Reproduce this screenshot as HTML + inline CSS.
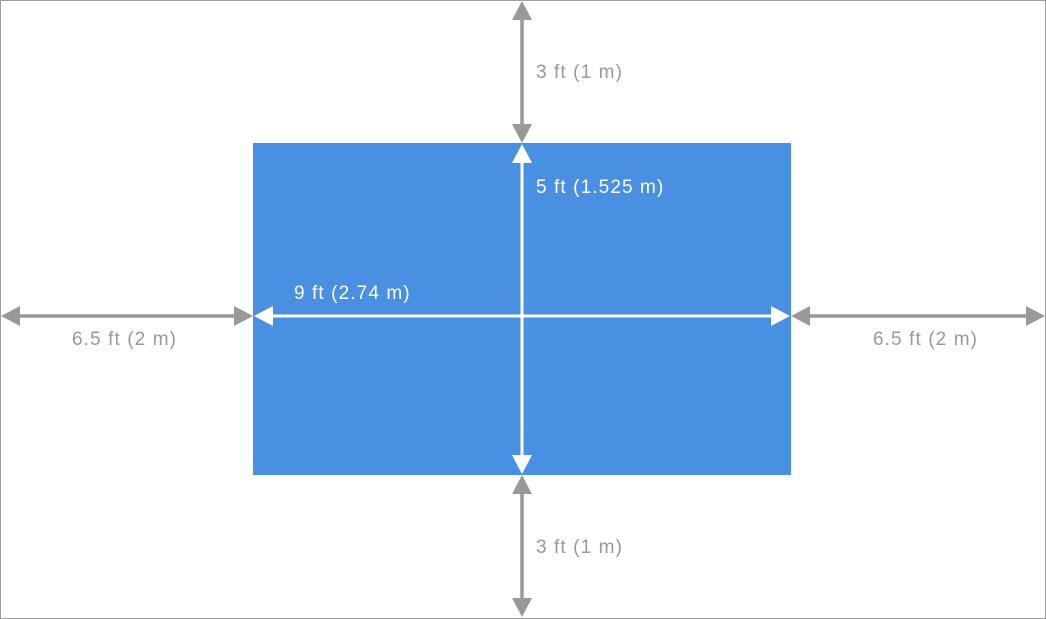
<!DOCTYPE html>
<html><head><style>html,body{margin:0;padding:0;background:#fff}</style></head>
<body>
<svg width="1046" height="619" xmlns="http://www.w3.org/2000/svg" style="display:block">
<rect x="0.5" y="0.5" width="1045" height="618" fill="#fff" stroke="#9e9e9e" stroke-width="1"/>
<rect x="253" y="143" width="538" height="332" fill="#4a90e2"/>
<g stroke="#999" stroke-width="3.5">
<line x1="522" y1="18" x2="522" y2="126"/>
<line x1="522" y1="492" x2="522" y2="600"/>
<line x1="18" y1="316" x2="236" y2="316"/>
<line x1="808" y1="316" x2="1028" y2="316"/>
</g>
<g fill="#999">
<polygon points="522,1 512,20 532,20"/>
<polygon points="522,143 512,124 532,124"/>
<polygon points="522,475 512,494 532,494"/>
<polygon points="522,617 512,598 532,598"/>
<polygon points="1,316 20,306 20,326"/>
<polygon points="253,316 234,306 234,326"/>
<polygon points="791,316 810,306 810,326"/>
<polygon points="1045,316 1026,306 1026,326"/>
</g>
<g stroke="#fff" stroke-width="3">
<line x1="522" y1="160" x2="522" y2="458"/>
<line x1="270" y1="316" x2="774" y2="316"/>
</g>
<g fill="#fff">
<polygon points="522,144 512,163 532,163"/>
<polygon points="522,474 512,455 532,455"/>
<polygon points="254,316 273,306 273,326"/>
<polygon points="790,316 771,306 771,326"/>
</g>
<g font-family="Liberation Sans, sans-serif" font-size="19" letter-spacing="1.1" fill="#999">
<text x="536" y="78">3 ft (1 m)</text>
<text x="536" y="553">3 ft (1 m)</text>
<text x="72" y="345">6.5 ft (2 m)</text>
<text x="873" y="345">6.5 ft (2 m)</text>
</g>
<g font-family="Liberation Sans, sans-serif" font-size="19" letter-spacing="1.1" fill="#fff">
<text x="536" y="193">5 ft (1.525 m)</text>
<text x="294" y="299">9 ft (2.74 m)</text>
</g>
</svg>
</body></html>
